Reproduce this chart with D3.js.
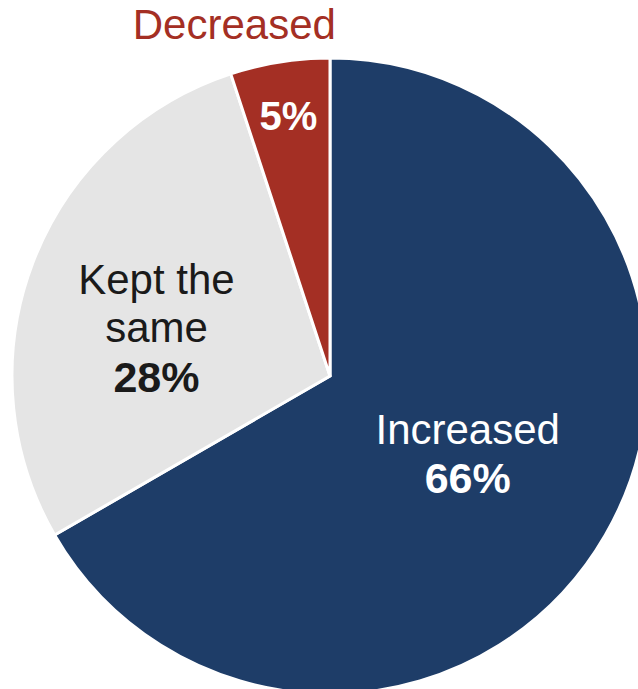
<!DOCTYPE html>
<html>
<head>
<meta charset="utf-8">
<script src="https://cdn.jsdelivr.net/npm/d3@7"></script>
<style>
  html, body { margin: 0; padding: 0; background: #fff; }
  svg { display: block; font-family: "Liberation Sans", Arial, sans-serif; }
</style>
</head>
<body>
<svg id="chart" width="638" height="689"></svg>
<script>
// Data
const categories = ["Increased", "Kept the same", "Decreased"];
const values = [66, 28, 5];
const percentLabels = ["66%", "28%", "5%"];
const colors = ["#1e3d68", "#e5e5e5", "#a42f24"];

const width = 638, height = 689;
const cx = 330, cy = 376, R = 318;

const svg = d3.select("#chart");
const g = svg.append("g").attr("transform", `translate(${cx},${cy})`);

const pie = d3.pie().sort(null).value(d => d);
const arcs = pie(values);
const arc = d3.arc().innerRadius(0).outerRadius(R);

g.selectAll("path.slice")
  .data(arcs)
  .join("path")
  .attr("class", "slice")
  .attr("d", arc)
  .attr("fill", (d, i) => colors[i])
  .attr("stroke", "#fff")
  .attr("stroke-width", 3)
  .attr("stroke-linejoin", "miter");

const labelArc = r => d3.arc().innerRadius(r).outerRadius(r);

// Increased
{
  const [x, y] = labelArc(R * 0.5).centroid(arcs[0]);
  const t = g.append("text").attr("text-anchor", "middle").attr("fill", "#fff");
  t.append("tspan").attr("x", x).attr("y", y - 12).attr("font-size", 42).text(categories[0]);
  t.append("tspan").attr("x", x).attr("y", y + 37).attr("font-size", 43).attr("font-weight", "bold").text(percentLabels[0]);
}
// Kept the same
{
  const [x0, y0] = labelArc(R * 0.5).centroid(arcs[1]);
  const x = x0 - 25, y = y0;
  const t = g.append("text").attr("text-anchor", "middle").attr("fill", "#1a1a1a");
  t.append("tspan").attr("x", x).attr("y", y - 25).attr("font-size", 42).text("Kept the");
  t.append("tspan").attr("x", x).attr("y", y + 23).attr("font-size", 42).text("same");
  t.append("tspan").attr("x", x).attr("y", y + 73).attr("font-size", 43).attr("font-weight", "bold").text(percentLabels[1]);
}
// Decreased
{
  const [x, y] = labelArc(R * 0.83).centroid(arcs[2]);
  g.append("text").attr("text-anchor", "middle").attr("fill", "#fff")
    .attr("x", x).attr("y", y + 15)
    .attr("font-size", 40).attr("font-weight", "bold").text(percentLabels[2]);
  g.append("text").attr("text-anchor", "middle").attr("fill", colors[2])
    .attr("x", x - 54).attr("y", -R - 19)
    .attr("font-size", 42).text(categories[2]);
}
</script>
</body>
</html>
